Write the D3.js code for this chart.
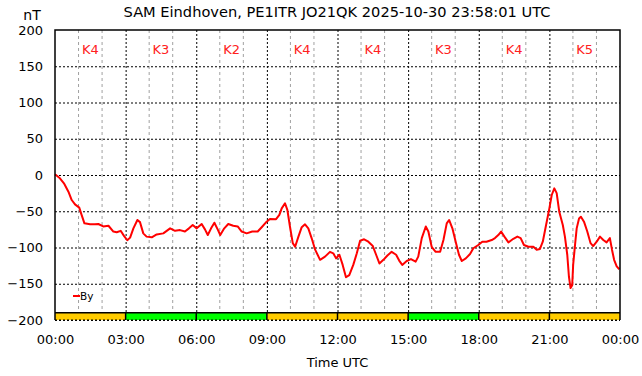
<!DOCTYPE html>
<html>
<head>
<meta charset="utf-8">
<script src="https://cdn.jsdelivr.net/npm/d3@7"></script>
<style>
  body { margin: 0; background: #fff; }
  text { font-family: "DejaVu Sans", sans-serif; }
  .grid line { stroke: #000; stroke-dasharray: 2,2; }
  .minor line { stroke: #a0a0a0; stroke-dasharray: 3,3; }
</style>
</head>
<body>
<div id="chart"></div>
<script>
let width = 642,
    height = 376,
    margin = ({ top: 30, right: 22, bottom: 56, left: 55 });

// hours since 00:00 UTC and By in nT
const hours = [0, 0.21, 0.38, 0.57, 0.71, 0.85, 1.03, 1.13, 1.25, 1.49, 1.70, 1.84, 2.05, 2.27, 2.48, 2.62, 2.79, 2.93,
  3.07, 3.19, 3.33, 3.50, 3.61, 3.75, 3.89, 4.11, 4.32, 4.60, 4.89, 5.10, 5.31, 5.52, 5.69, 5.85, 6.02, 6.23, 6.37,
  6.49, 6.63, 6.77, 6.91, 7.02, 7.19, 7.36, 7.57, 7.76, 7.93, 8.14, 8.38, 8.61, 8.78, 8.99, 9.13, 9.39, 9.53, 9.63,
  9.77, 9.87, 9.98, 10.10, 10.20, 10.34, 10.48, 10.62, 10.76, 10.90, 11.05, 11.26, 11.47, 11.68, 11.82, 11.94, 12.08,
  12.22, 12.36, 12.50, 12.67, 12.82, 12.96, 13.13, 13.31, 13.50, 13.64, 13.78, 13.95, 14.12, 14.30, 14.49, 14.62,
  14.75, 14.94, 15.12, 15.32, 15.43, 15.58, 15.75, 15.86, 16.00, 16.17, 16.36, 16.50, 16.64, 16.74, 16.88, 17.02,
  17.16, 17.28, 17.45, 17.63, 17.77, 17.98, 18.15, 18.33, 18.55, 18.69, 18.83, 18.95, 19.09, 19.26, 19.47, 19.64,
  19.78, 19.92, 20.11, 20.32, 20.46, 20.60, 20.72, 20.86, 21.00, 21.10, 21.21, 21.31, 21.42, 21.57, 21.66, 21.76,
  21.83, 21.90, 21.97, 22.01, 22.09, 22.16, 22.26, 22.34, 22.47, 22.61, 22.75, 22.86, 23.01, 23.15, 23.29, 23.43,
  23.57, 23.66, 23.75, 23.86, 23.97];
const byValues = [1, -4.6, -11.5, -23, -34.5, -40.5, -45, -55, -66.7, -68, -68, -67.6, -71, -70, -78, -79, -77, -84,
  -90, -86.4, -73.6, -62, -65, -80.5, -85, -86, -82, -80.5, -73.6, -77, -76, -78, -73.6, -69, -73.6, -67.6, -75,
  -82.8, -73.6, -65.8, -75, -82.8, -73.6, -67.6, -70, -71, -78, -80.5, -78, -78, -72, -64.4, -60.7, -61, -55, -46,
  -39, -48, -71, -94, -99, -85, -72, -68, -73.6, -87, -103, -117, -112.6, -106, -108, -115, -110,
  -124, -141, -138, -124, -108, -90.6, -88.7, -92, -98, -110, -122, -117, -111, -106, -110, -118,
  -124, -118.6, -116, -119.5, -112.6, -87, -71, -78, -99, -106, -106, -89.7, -66.7, -62, -73.6, -92,
  -110, -118.6, -115, -109, -101, -96.5, -92, -92, -89.7, -87, -82.8, -78, -85, -93, -88, -85,
  -87, -96.5, -99, -99, -103, -102, -92, -69, -46, -27.6, -18.4, -25, -50.6, -69, -85, -110,
  -140, -156, -152, -124, -96.5, -73.6, -60, -57.5, -64.4, -78, -94, -98, -92, -85, -89.7, -93,
  -87, -103, -117, -126, -130];

const kIndex = ["K4", "K3", "K2", "K4", "K4", "K3", "K4", "K5"];
const xTickLabels = ["00:00", "03:00", "06:00", "09:00", "12:00", "15:00", "18:00", "21:00", "00:00"];
const yTicks = [200, 150, 100, 50, 0, -50, -100, -150, -200];

const svg = d3.select("#chart")
  .append("svg")
  .attr("width", width)
  .attr("height", height);

let x = d3.scaleLinear()
  .domain([0, 24])
  .range([margin.left, width - margin.right]);

let y = d3.scaleLinear()
  .domain([-200, 200])
  .range([height - margin.bottom, margin.top]);

// hourly grey lines (skip the 3 hour ones, they are drawn black)
svg.append("g")
  .attr("class", "minor")
  .selectAll("line")
  .data(d3.range(1, 24).filter(h => h % 3 != 0))
  .join("line")
  .attr("x1", d => x(d)).attr("x2", d => x(d))
  .attr("y1", y(200)).attr("y2", y(-200));

// black dotted grid from the axes
svg.append("g")
  .attr("class", "grid")
  .attr("transform", `translate(0,${height - margin.bottom})`)
  .call(d3.axisBottom(x).tickValues(d3.range(3, 24, 3)).tickFormat("").tickSize(-(height - margin.top - margin.bottom)))
  .call(g => g.select(".domain").remove());

svg.append("g")
  .attr("class", "grid")
  .attr("transform", `translate(${margin.left},0)`)
  .call(d3.axisLeft(y).tickValues(yTicks.slice(1)).tickFormat("").tickSize(-(width - margin.left - margin.right)))
  .call(g => g.select(".domain").remove());

// K index band at the bottom
svg.append("g")
  .selectAll("rect")
  .data(kIndex)
  .join("rect")
  .attr("x", (d, i) => x(i * 3))
  .attr("y", y(-190))
  .attr("width", x(3) - x(0))
  .attr("height", y(-200) - y(-190))
  .attr("fill", d => +d.slice(1) >= 4 ? "#ffcc00" : "#00ff00");

svg.append("line")
  .attr("x1", x(0)).attr("x2", x(24))
  .attr("y1", y(-190)).attr("y2", y(-190))
  .attr("stroke", "#000").attr("stroke-width", 1.5);

svg.append("g")
  .selectAll("line")
  .data(d3.range(3, 24, 3))
  .join("line")
  .attr("x1", d => x(d)).attr("x2", d => x(d))
  .attr("y1", y(-190)).attr("y2", y(-200))
  .attr("stroke", "#000").attr("stroke-width", 1.5);

svg.append("line")
  .attr("x1", x(0)).attr("x2", x(24))
  .attr("y1", y(-200)).attr("y2", y(-200))
  .attr("stroke", "#000").attr("stroke-dasharray", "2,2");

// K labels along the top
svg.append("g")
  .selectAll("text")
  .data(kIndex)
  .join("text")
  .attr("x", (d, i) => x(i * 3 + 1.5))
  .attr("y", 54)
  .attr("text-anchor", "middle")
  .attr("font-size", 13)
  .attr("fill", "#ff2020")
  .text(d => d);

// By curve
const line = d3.line()
  .x((d, i) => x(hours[i]))
  .y(d => y(d));

svg.append("path")
  .datum(byValues)
  .attr("fill", "none")
  .attr("stroke", "#ff0000")
  .attr("stroke-width", 2)
  .attr("stroke-linejoin", "round")
  .attr("d", line);

// border (left, top, right)
svg.append("path")
  .attr("d", `M${x(0)},${y(-200)}V${y(200)}H${x(24)}V${y(-200)}`)
  .attr("fill", "none")
  .attr("stroke", "#000")
  .attr("stroke-width", 1.5);

// axis labels
svg.append("g")
  .attr("transform", `translate(${margin.left - 9},0)`)
  .call(d3.axisLeft(y).tickValues(yTicks).tickSize(0))
  .call(g => g.select(".domain").remove())
  .call(g => g.selectAll("text").attr("font-size", 13).attr("fill", "#000").attr("font-family", "DejaVu Sans"));

svg.append("g")
  .attr("transform", `translate(0,${height - margin.bottom + 12})`)
  .call(d3.axisBottom(x).tickValues(d3.range(0, 25, 3)).tickFormat((d, i) => xTickLabels[i]).tickSize(0))
  .call(g => g.select(".domain").remove())
  .call(g => g.selectAll("text").attr("font-size", 13).attr("fill", "#000").attr("font-family", "DejaVu Sans"));

svg.append("text")
  .attr("x", 337)
  .attr("y", 17)
  .attr("text-anchor", "middle")
  .attr("font-size", 14.6)
  .text("SAM Eindhoven, PE1ITR JO21QK 2025-10-30 23:58:01 UTC");

svg.append("text")
  .attr("x", 32)
  .attr("y", 20)
  .attr("text-anchor", "middle")
  .attr("font-size", 14)
  .text("nT");

svg.append("text")
  .attr("x", x(12))
  .attr("y", 367)
  .attr("text-anchor", "middle")
  .attr("font-size", 13)
  .text("Time UTC");

// legend
svg.append("line")
  .attr("x1", 73).attr("x2", 80)
  .attr("y1", 296).attr("y2", 296)
  .attr("stroke", "#ff0000").attr("stroke-width", 2);

svg.append("text")
  .attr("x", 80)
  .attr("y", 300)
  .attr("font-size", 10.5)
  .text("By");
</script>
</body>
</html>
